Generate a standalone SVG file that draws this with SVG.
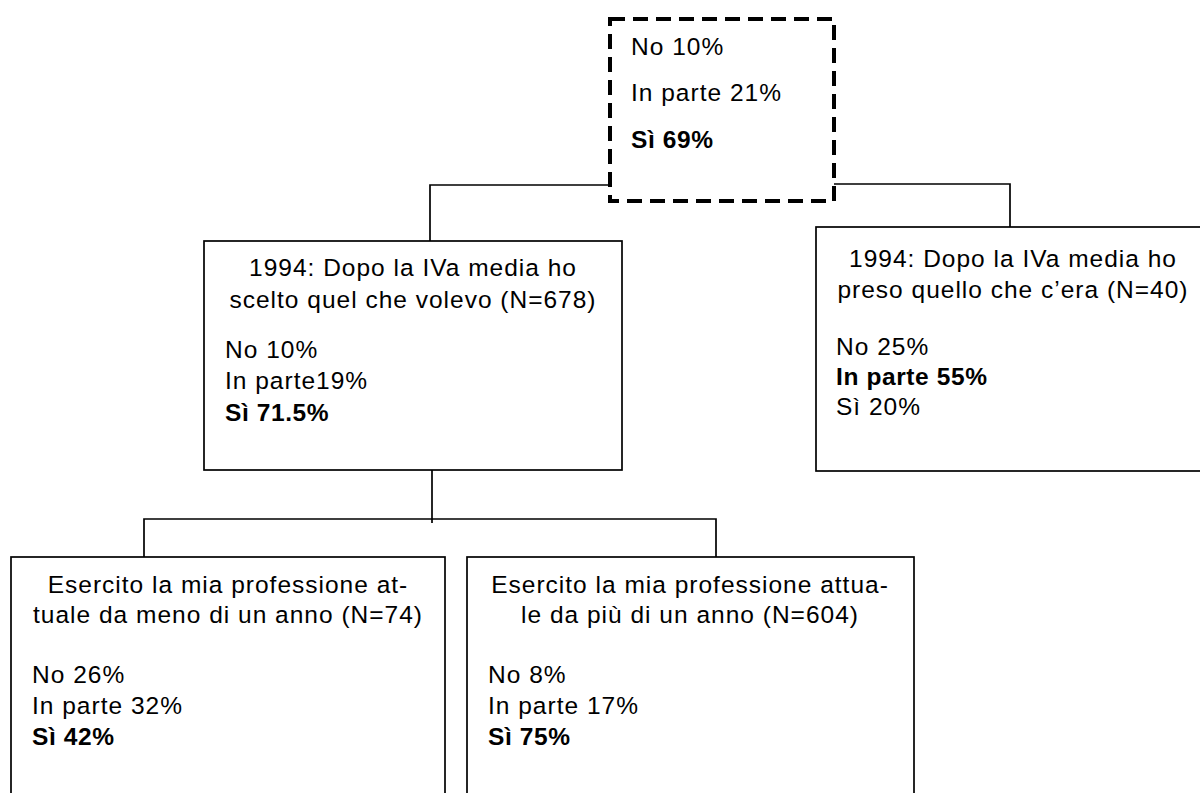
<svg xmlns="http://www.w3.org/2000/svg" width="1200" height="793" viewBox="0 0 1200 793">
<style>
text{font-family:"Liberation Sans",Arial,sans-serif;font-size:24.5px;letter-spacing:1px;fill:#000}
.b{font-weight:bold;letter-spacing:0.6px}
.c{text-anchor:middle}
.box{fill:#fff;stroke:#000;stroke-width:1.7}
.dash{fill:#fff;stroke:#000;stroke-width:4;stroke-dasharray:15 8}
.con{fill:none;stroke:#000;stroke-width:1.7}
</style>
<rect width="1200" height="793" fill="#fff"/>
<g id="connectors">
<polyline class="con" points="430,241 430,185 610,185"/>
<polyline class="con" points="834,184 1010,184 1010,227"/>
<line class="con" x1="432" y1="470" x2="432" y2="523"/>
<polyline class="con" points="144,557 144,519 716,519 716,557"/>
</g>
<g id="root">
<rect class="dash" x="610" y="19" width="224" height="182"/>
<text x="631" y="55">No 10%</text>
<text x="631" y="101">In parte 21%</text>
<text x="631" y="148" class="b">Sì 69%</text>
</g>
<g id="chose">
<rect class="box" x="204" y="241" width="418" height="229"/>
<text x="413" y="276" class="c">1994: Dopo la IVa media ho</text>
<text x="413" y="308" class="c">scelto quel che volevo (N=678)</text>
<text x="225" y="358">No 10%</text>
<text x="225" y="389">In parte19%</text>
<text x="225" y="421" class="b">Sì 71.5%</text>
</g>
<g id="took">
<rect class="box" x="816" y="227" width="400" height="244"/>
<text x="1013" y="267" class="c">1994: Dopo la IVa media ho</text>
<text x="1013" y="298" class="c">preso quello che c’era (N=40)</text>
<text x="836" y="355">No 25%</text>
<text x="836" y="385" class="b">In parte 55%</text>
<text x="836" y="415">Sì 20%</text>
</g>
<g id="less">
<rect class="box" x="11" y="557" width="434" height="260"/>
<text x="228" y="593" class="c">Esercito la mia professione at-</text>
<text x="228" y="623" class="c">tuale da meno di un anno (N=74)</text>
<text x="32" y="683">No 26%</text>
<text x="32" y="714">In parte 32%</text>
<text x="32" y="745" class="b">Sì 42%</text>
</g>
<g id="more">
<rect class="box" x="467" y="557" width="447" height="260"/>
<text x="690" y="593" class="c">Esercito la mia professione attua-</text>
<text x="690" y="623" class="c">le da più di un anno (N=604)</text>
<text x="488" y="683">No 8%</text>
<text x="488" y="714">In parte 17%</text>
<text x="488" y="745" class="b">Sì 75%</text>
</g>
</svg>
